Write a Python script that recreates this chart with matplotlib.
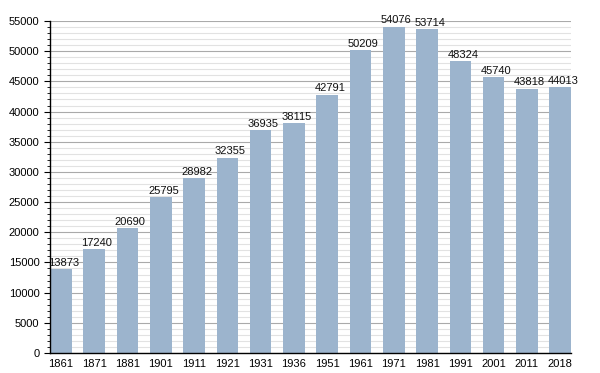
import numpy as np
import matplotlib.pyplot as plt

plt.rcParams["font.family"] = ["Liberation Sans", "DejaVu Sans"]

# data
years = ["1861", "1871", "1881", "1901", "1911", "1921", "1931", "1936",
         "1951", "1961", "1971", "1981", "1991", "2001", "2011", "2018"]
population = [13873, 17240, 20690, 25795, 28982, 32355, 36935, 38115,
              42791, 50209, 54076, 53714, 48324, 45740, 43818, 44013]

fig = plt.figure(figsize=(6, 3.73), dpi=100)
ax = fig.add_axes([0.0833, 0.0536, 0.8687, 0.8901])

x = np.arange(len(years))
ax.bar(x, population, width=0.65, color="#9cb4cd", zorder=2)
for xi, v in zip(x, population):
    ax.text(xi + 0.08, v + 200, str(v), ha="center", va="bottom",
            fontsize=8, color="#111111", zorder=3)

ax.set_xlim(-0.33, len(years) - 1 + 0.33)
ax.set_ylim(0, 55000)
ax.set_xticks(x)
ax.set_xticklabels(years)
ax.set_yticks(np.arange(0, 55001, 5000))
ax.set_yticks(np.arange(0, 55001, 1000), minor=True)

ax.grid(axis="y", which="major", color="#aaaaaa", linewidth=0.8, zorder=0)
ax.grid(axis="y", which="minor", color="#e2e2e2", linewidth=0.8, zorder=0)

ax.tick_params(axis="x", length=0, labelsize=8, pad=4)
ax.tick_params(axis="y", which="major", length=4, labelsize=8)
ax.tick_params(axis="y", which="minor", length=2)

ax.spines["top"].set_visible(False)
ax.spines["right"].set_visible(False)
ax.spines["left"].set_linewidth(1)
ax.spines["bottom"].set_linewidth(1)

plt.savefig("out.png", dpi=100)
plt.close()
